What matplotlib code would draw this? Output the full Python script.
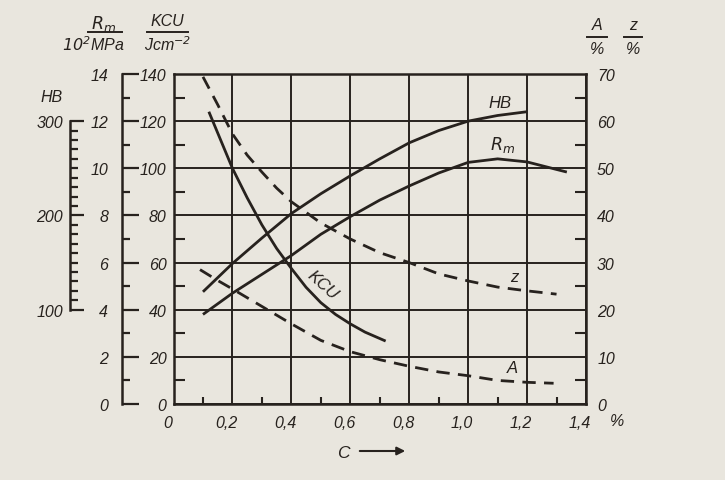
import matplotlib
matplotlib.use("Agg")
import matplotlib.pyplot as plt
from matplotlib.ticker import FixedLocator
from matplotlib.lines import Line2D
import matplotlib.transforms as mtrans

# ---------------- data ----------------
c_hb = [0.1, 0.2, 0.3, 0.4, 0.5, 0.6, 0.7, 0.8, 0.9, 1.0, 1.1, 1.2]
hb_vals = [119, 149, 176, 202, 223, 242, 260, 277, 290, 300, 306, 310]

c_rm = [0.1, 0.2, 0.3, 0.4, 0.5, 0.6, 0.7, 0.8, 0.9, 1.0, 1.1, 1.2, 1.3, 1.335]
rm_vals = [3.8, 4.7, 5.5, 6.3, 7.2, 7.95, 8.65, 9.25, 9.8, 10.25, 10.4, 10.27, 9.95, 9.84]

c_kcu = [0.12, 0.15, 0.2, 0.25, 0.3, 0.35, 0.4, 0.45, 0.5, 0.55, 0.6, 0.65, 0.72]
kcu_vals = [124, 115, 100, 87.5, 76, 66, 57.5, 49.5, 43, 38, 34, 30.5, 26.7]

c_z = [0.1, 0.15, 0.2, 0.25, 0.3, 0.35, 0.4, 0.5, 0.6, 0.7, 0.8, 0.9, 1.0, 1.1, 1.2, 1.3]
z_vals = [69.4, 63.5, 57.3, 52.8, 49.2, 45.8, 42.9, 38.4, 35.0, 32.1, 30.0, 27.6, 26.1, 24.8, 24.0, 23.3]

c_a = [0.09, 0.15, 0.2, 0.3, 0.4, 0.5, 0.6, 0.7, 0.8, 0.9, 1.0, 1.1, 1.2, 1.29]
a_vals = [28.5, 26.2, 24.4, 20.7, 17.0, 13.5, 11.1, 9.4, 8.0, 6.8, 6.0, 5.0, 4.6, 4.4]

x_ticks = [0, 0.2, 0.4, 0.6, 0.8, 1.0, 1.2, 1.4]
x_labels = ["0", "0,2", "0,4", "0,6", "0,8", "1,0", "1,2", "1,4"]
kcu_ticks = [0, 20, 40, 60, 80, 100, 120, 140]
rm_ticks = [0, 2, 4, 6, 8, 10, 12, 14]
hb_ticks = [100, 200, 300]
az_ticks = [0, 10, 20, 30, 40, 50, 60, 70]

# ---------------- style ----------------
INK = "#27221e"
PAPER = "#e9e6de"
FONT = ["Liberation Sans Narrow", "Liberation Sans", "DejaVu Sans"]
plt.rcParams["font.family"] = FONT
plt.rcParams["font.style"] = "italic"
FS = 11.5

W, H = 725, 481
fig = plt.figure(figsize=(W / 100, H / 100), dpi=100, facecolor=PAPER)

L, R, T, B = 173.5, 586, 75, 405
ax = fig.add_axes([L / W, 1 - B / H, (R - L) / W, (B - T) / H])
ax.set_facecolor(PAPER)
AXW = R - L

ax.set_xlim(0, 1.4)
ax.set_ylim(0, 140)
for s in ax.spines.values():
    s.set_linewidth(1.8)
    s.set_color(INK)

ax.xaxis.set_major_locator(FixedLocator(x_ticks))
ax.set_xticklabels(x_labels)
ax.xaxis.set_minor_locator(FixedLocator([0.1, 0.3, 0.5, 0.7, 0.9, 1.1, 1.3]))
ax.yaxis.set_major_locator(FixedLocator(kcu_ticks))
ax.yaxis.set_minor_locator(FixedLocator([10, 30, 50, 70, 90, 110, 130]))
ax.grid(True, which="major", color=INK, linewidth=1.4)
ax.tick_params(which="both", direction="in", colors=INK, labelsize=FS)
ax.tick_params(axis="x", which="major", length=0, pad=8)
ax.tick_params(axis="x", which="minor", length=5, width=1.5)
ax.tick_params(axis="y", which="major", length=0, pad=5)
ax.tick_params(axis="y", which="minor", length=8, width=1.5)

shift = mtrans.ScaledTranslation(-6 / 100, 0, fig.dpi_scale_trans)
for lab in ax.get_xticklabels():
    lab.set_transform(lab.get_transform() + shift)

# Rm axis
ax_rm = ax.twinx()
ax_rm.set_ylim(0, 14)
ax_rm.yaxis.set_ticks_position("left")
ax_rm.spines["left"].set_visible(True)
ax_rm.spines["left"].set_position(("axes", (122 - L) / AXW))
for k in ["right", "top", "bottom"]:
    ax_rm.spines[k].set_visible(False)
ax_rm.spines["left"].set_linewidth(1.8)
ax_rm.spines["left"].set_color(INK)
ax_rm.yaxis.set_major_locator(FixedLocator(rm_ticks))
ax_rm.yaxis.set_minor_locator(FixedLocator([1, 3, 5, 7, 9, 11, 13]))
ax_rm.tick_params(which="both", direction="in", colors=INK, labelsize=FS, width=1.6)
ax_rm.tick_params(which="major", length=12, pad=10)
ax_rm.tick_params(which="minor", length=6)

# HB axis
ax_hb = ax.twinx()
ax_hb.set_ylim(0, 350)
ax_hb.yaxis.set_ticks_position("left")
ax_hb.spines["left"].set_visible(True)
ax_hb.spines["left"].set_position(("axes", (70 - L) / AXW))
ax_hb.spines["left"].set_bounds(100, 300)
for k in ["right", "top", "bottom"]:
    ax_hb.spines[k].set_visible(False)
ax_hb.spines["left"].set_linewidth(1.8)
ax_hb.spines["left"].set_color(INK)
ax_hb.yaxis.set_major_locator(FixedLocator(hb_ticks))
ax_hb.yaxis.set_minor_locator(FixedLocator([v for v in range(110, 300, 10) if v != 200]))
ax_hb.tick_params(which="both", direction="in", colors=INK, labelsize=FS, width=1.6)
ax_hb.tick_params(which="major", length=10, pad=5)
ax_hb.tick_params(which="minor", length=6)

# A / z axis (right)
ax_az = ax.twinx()
ax_az.set_ylim(0, 70)
for k in ["left", "top", "bottom", "right"]:
    ax_az.spines[k].set_visible(False)
ax_az.yaxis.set_major_locator(FixedLocator(az_ticks))
ax_az.yaxis.set_minor_locator(FixedLocator([5, 15, 25, 35, 45, 55, 65]))
ax_az.tick_params(which="both", direction="in", colors=INK, labelsize=FS, width=1.5)
ax_az.tick_params(which="major", length=0, pad=8)
ax_az.tick_params(which="minor", length=8)

# ---------------- curves ----------------
LW = 2.0
ax_hb.plot(c_hb, hb_vals, color=INK, lw=LW, solid_capstyle="butt")
ax_rm.plot(c_rm, rm_vals, color=INK, lw=LW, solid_capstyle="butt")
ax.plot(c_kcu, kcu_vals, color=INK, lw=LW, solid_capstyle="butt")
lz, = ax_az.plot(c_z, z_vals, color=INK, lw=LW, dash_capstyle="butt")
lz.set_dashes([4.8, 3.0])
la, = ax_az.plot(c_a, a_vals, color=INK, lw=LW, dash_capstyle="butt")
la.set_dashes([4.8, 3.0])

# curve labels
def ftext(x, y, s, **kw):
    kw.setdefault("fontsize", FS)
    kw.setdefault("color", INK)
    kw.setdefault("ha", "center")
    kw.setdefault("va", "center")
    fig.text(x / W, 1 - y / H, s, **kw)

ftext(500, 103, "HB", fontsize=12)
ftext(503, 145, r"$R_m$", fontsize=12.5)
ftext(323, 285, "KCU", rotation=-42, fontsize=12)
ftext(514, 278, "z", fontsize=12)
ftext(512, 369, "A", fontsize=12)

# axis unit labels
ftext(52, 98, "HB")
ftext(104, 24, r"$R_m$", fontsize=12.5)
ftext(93, 45, r"$10^2$MPa")
ftext(167, 22, "KCU")
ftext(168, 45, r"Jcm$^{-2}$")
ftext(597, 26, "A")
ftext(597, 50, "%")
ftext(633, 26, "z")
ftext(633, 50, "%")
ftext(617, 422, "%")
ftext(343, 454, "C", fontsize=12.5)

def hline(x0, x1, y):
    fig.add_artist(Line2D([x0 / W, x1 / W], [1 - y / H, 1 - y / H],
                          transform=fig.transFigure, color=INK, lw=1.4))

hline(88, 122, 33)
hline(147, 188, 33)
hline(587, 607, 38)
hline(624, 642, 38)

ax.annotate("", xy=(408, H - 452), xytext=(357, H - 452), xycoords="figure pixels",
            textcoords="figure pixels",
            arrowprops=dict(arrowstyle="-|>", color=INK, lw=1.5, mutation_scale=12))

fig.savefig("out.png", dpi=100, facecolor=PAPER)
